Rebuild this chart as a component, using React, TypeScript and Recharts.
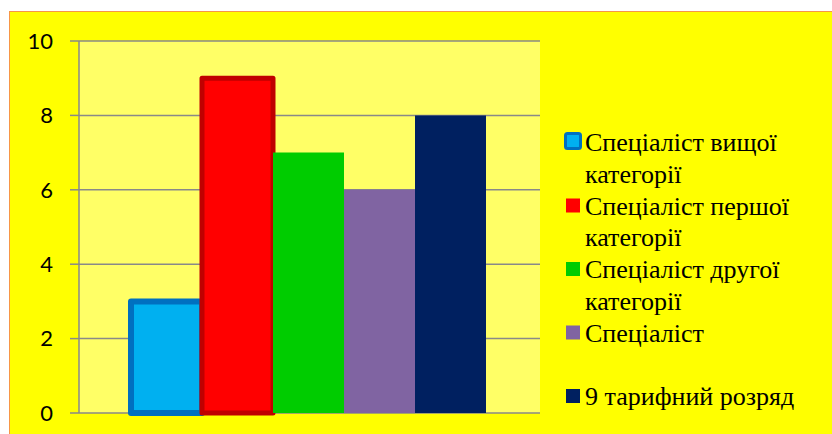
import { BarChart, Bar, XAxis, YAxis, CartesianGrid } from "recharts";

const seriesNames = [
  "Спеціаліст вищої категорії",
  "Спеціаліст першої категорії",
  "Спеціаліст другої категорії",
  "Спеціаліст",
  "9 тарифний розряд",
];
const seriesValues = [3, 9, 7, 6, 8];
const yTicks = [0, 2, 4, 6, 8, 10];

const fills = ["#00B0F0", "#FF0000", "#00CC00", "#8064A2", "#002060"];
const strokes = ["#0070C0", "#C00000", "none", "none", "none"];
const strokeWidths = [6, 5, 0, 0, 0];

const keys = seriesNames.map((_, i) => `s${i}`);
const row: Record<string, number | string> = { name: "" };
keys.forEach((k, i) => (row[k] = seriesValues[i]));
const data = [row];

const W = 832;
const H = 434;

// legend text wraps before the last word when the line would be too long
const wrap = (s: string) => {
  if (s.length < 20) return [s];
  const cut = s.lastIndexOf(" ");
  return [s.slice(0, cut), s.slice(cut + 1)];
};

function LegendBox() {
  const lineH = 31.5;
  return (
    <svg
      width={270}
      height={320}
      style={{ position: "absolute", left: 563, top: 126 }}
    >
      {seriesNames.map((name, i) => {
        const y0 = i * 63.5;
        return (
          <g key={name}>
            {i === 0 ? (
              <rect x={2.5} y={7.5} width={15} height={15} rx={2} fill={fills[0]} stroke={strokes[0]} strokeWidth={3} />
            ) : (
              <rect x={3} y={y0 + 9} width={14} height={14} fill={fills[i]} />
            )}
            {wrap(name).map((ln, j) => (
              <text
                key={j}
                x={22}
                y={y0 + j * lineH + 25}
                fontFamily="Liberation Serif"
                fontSize={26}
                fill="#000000"
                style={{ fontFamily: "Liberation Serif" }}
              >
                {ln}
              </text>
            ))}
          </g>
        );
      })}
    </svg>
  );
}

export default function App() {
  return (
    <div
      style={{
        position: "fixed",
        left: 0,
        top: 0,
        width: W,
        height: H,
        overflow: "hidden",
        background: "#FFFFFF",
      }}
    >
      <div
        style={{
          position: "absolute",
          left: 9,
          top: 11,
          width: 840,
          height: 440,
          background: "#FFFF00",
          borderTop: "1px solid #F79646",
          borderLeft: "1px solid #F79646",
        }}
      />
      <div style={{ position: "absolute", left: 0, top: 0 }}>
        <BarChart
          width={W}
          height={H}
          data={data}
          margin={{ top: 41, right: W - 540, bottom: H - 413, left: 0 }}
          barCategoryGap={52}
          barGap={0}
        >
          <CartesianGrid
            vertical={false}
            stroke="#898989"
            strokeWidth={1.5}
            fill="#FFFF66"
            fillOpacity={1}
          />
          <XAxis dataKey="name" hide />
          <YAxis
            width={79}
            domain={[0, 10]}
            ticks={yTicks}
            interval={0}
            axisLine={{ stroke: "#898989", strokeWidth: 1.5 }}
            tickLine={{ stroke: "#898989", strokeWidth: 1.5 }}
            tickSize={9}
            tickMargin={17}
            tick={{ fill: "#000000", fontSize: 22, fontFamily: "Lato" }}
          />
          {keys.map((k, i) => (
            <Bar
              key={k}
              dataKey={k}
              fill={fills[i]}
              stroke={strokes[i]}
              strokeWidth={strokeWidths[i]}
              strokeLinejoin="round"
              isAnimationActive={false}
            />
          ))}
        </BarChart>
      </div>
      <LegendBox />
    </div>
  );
}
